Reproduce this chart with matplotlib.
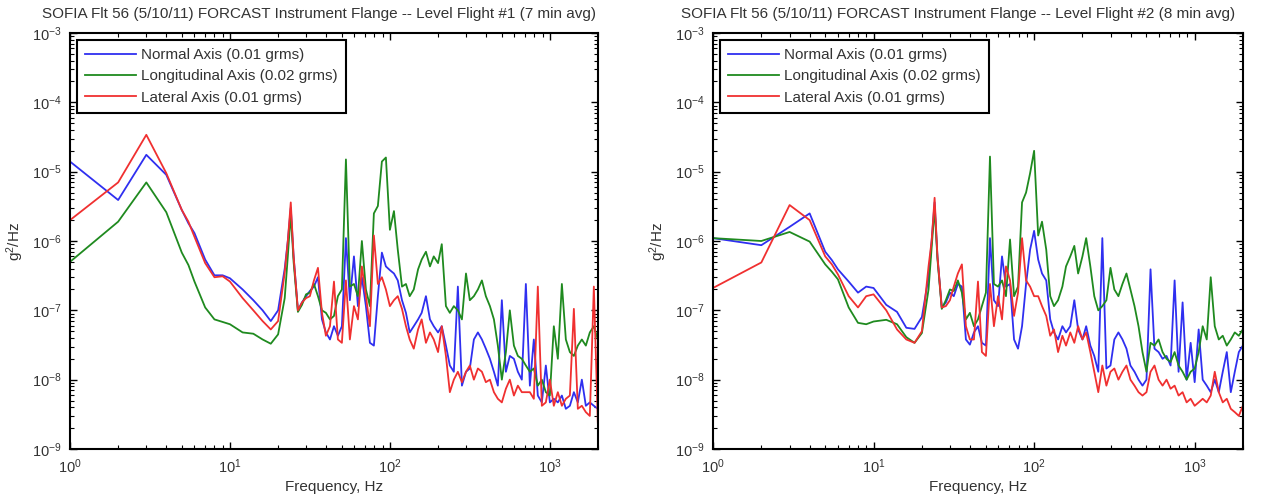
import matplotlib
matplotlib.use("Agg")
import matplotlib.pyplot as plt
from matplotlib.ticker import FixedLocator, LogFormatterSciNotation, NullFormatter

plt.rcParams["font.family"] = ["Liberation Sans", "DejaVu Sans"]
plt.rcParams["mathtext.fontset"] = "custom"
plt.rcParams["mathtext.rm"] = "Liberation Sans"
plt.rcParams["mathtext.it"] = "Liberation Sans:italic"
plt.rcParams["mathtext.bf"] = "Liberation Sans:bold"

# Frequency grid shared by every PSD series (Hz)
freq_hz = [
    1, 2, 3, 4, 5, 5.5, 6, 7, 8, 9, 10, 12, 14, 16, 18, 20, 22, 23, 24, 25,
    26.6, 28.2, 29.9, 31.6, 33.5, 35.5, 37.6, 39.8, 42.2, 44.7, 47.3, 50.1,
    53.1, 56.2, 59.6, 63.1, 66.8, 70.8, 75.0, 79.4, 84.1, 89.1, 94.4, 100,
    106, 112, 119, 126, 133, 141, 150, 158, 168, 178, 188, 200, 211, 224,
    237, 251, 266, 282, 299, 316, 335, 355, 376, 398, 422, 447, 473, 501,
    531, 562, 596, 631, 668, 708, 750, 794, 841, 891, 944, 1000, 1059, 1122,
    1189, 1259, 1334, 1413, 1496, 1585, 1679, 1778, 1884, 1995,
]

# Level Flight #1 PSD, g^2/Hz
flight1_normal = [
    1.4e-5, 3.9e-6, 1.75e-5, 9e-6, 2.8e-6, 1.8e-6, 1.3e-6, 5.4e-7, 3.2e-7, 3.2e-7,
    2.9e-7, 2e-7, 1.4e-7, 1e-7, 7e-8, 1e-7, 4e-7, 1e-6, 3e-6, 6e-7,
    1.0e-7, 1.3e-7, 1.6e-7, 1.9e-7, 2.2e-7, 3e-7, 7.4e-8, 4.8e-8, 3.8e-8, 5.9e-8,
    4.3e-8, 5.9e-8, 1.1e-6, 1.4e-7, 6e-7, 1.15e-7, 3e-7, 1.15e-7, 3.4e-8, 3.1e-8,
    1.6e-7, 6.8e-7, 4.3e-7, 3.8e-7, 3.4e-7, 2.7e-7, 1.4e-7, 9.2e-8, 4.8e-8, 5.9e-8,
    7.4e-8, 9.2e-8, 1.6e-7, 7.4e-8, 5.9e-8, 4.8e-8, 5.9e-8, 3.1e-8, 1.6e-8, 1.3e-8,
    2.2e-7, 8.2e-9, 1.3e-8, 1.45e-8, 3.8e-8, 4.8e-8, 3.8e-8, 2.8e-8, 2e-8, 1.3e-8,
    8.2e-9, 1.4e-7, 1.3e-8, 2.2e-8, 2e-8, 1.3e-8, 1e-8, 2.4e-7, 8.2e-9, 3.8e-8,
    5.9e-9, 4.7e-9, 1.6e-8, 4.7e-9, 5.3e-9, 4.7e-9, 5.9e-9, 3.8e-9, 4.2e-9, 6.6e-9,
    4.7e-9, 1e-8, 4.2e-9, 4.7e-9, 4.2e-9, 3.8e-9,
]
flight1_longitudinal = [
    5e-7, 1.9e-6, 7e-6, 2.6e-6, 6.8e-7, 4.5e-7, 2.6e-7, 1.1e-7, 7.4e-8, 6.8e-8,
    6.3e-8, 4.8e-8, 4.6e-8, 3.8e-8, 3.3e-8, 4.5e-8, 1.5e-7, 6e-7, 2.5e-6, 5e-7,
    9.5e-8, 1.2e-7, 1.7e-7, 1.8e-7, 2.4e-7, 1.6e-7, 1e-7, 9.2e-8, 7.4e-8, 8.3e-8,
    1.6e-7, 2e-7, 1.5e-5, 2.2e-7, 2.4e-7, 1.6e-7, 1e-6, 2e-7, 1.15e-7, 2.5e-6,
    3.2e-6, 1.4e-5, 1.6e-5, 1.45e-6, 2.7e-6, 7.5e-7, 2.2e-7, 2.4e-7, 1.6e-7, 2e-7,
    3.9e-7, 5.4e-7, 7e-7, 4.3e-7, 6e-7, 4.8e-7, 9e-7, 1.15e-7, 9.2e-8, 1.15e-7,
    1e-7, 7.4e-8, 3.4e-7, 1.4e-7, 1.6e-7, 2e-7, 2.7e-7, 1.6e-7, 1.15e-7, 7.4e-8,
    3.1e-8, 1e-8, 2.5e-8, 1e-7, 3.1e-8, 2.2e-8, 2e-8, 1.6e-8, 1.3e-8, 1.45e-8,
    8.2e-9, 1e-8, 6.6e-9, 5.9e-9, 5.9e-8, 2e-8, 2.4e-7, 3.8e-8, 2.5e-8, 2.2e-8,
    3.1e-8, 3.8e-8, 3.1e-8, 4.8e-8, 5.9e-8, 3.8e-8,
]
flight1_lateral = [
    2e-6, 7e-6, 3.4e-5, 9.5e-6, 2.8e-6, 1.9e-6, 1.15e-6, 4.8e-7, 3e-7, 3.1e-7,
    2.6e-7, 1.5e-7, 1e-7, 7e-8, 5.3e-8, 7e-8, 3.5e-7, 1e-6, 3.6e-6, 6e-7,
    1.0e-7, 1.3e-7, 1.5e-7, 1.6e-7, 2.7e-7, 4.1e-7, 9.2e-8, 4.3e-8, 5.9e-8, 2.6e-7,
    3.8e-8, 3.4e-8, 2.7e-7, 3.8e-8, 1.15e-7, 7.4e-8, 4.3e-7, 1.6e-7, 5.9e-8, 1.2e-6,
    2.4e-7, 3e-7, 2e-7, 1.15e-7, 1.4e-7, 1.6e-7, 1.05e-7, 5.9e-8, 3.8e-8, 2.8e-8,
    5.3e-8, 7.4e-8, 3.4e-8, 4.8e-8, 3.8e-8, 2.5e-8, 5.9e-8, 2.2e-8, 6.6e-9, 1e-8,
    1.3e-8, 9.2e-9, 1.3e-8, 1.6e-8, 1e-8, 1.45e-8, 1.3e-8, 9.2e-9, 1e-8, 6.6e-9,
    5.3e-9, 4.7e-9, 7.4e-9, 1e-8, 5.9e-9, 8.2e-9, 6.6e-9, 6.6e-9, 6.6e-9, 5.3e-9,
    2.2e-7, 4.2e-9, 4.7e-9, 1e-8, 4.2e-9, 6.6e-9, 4.2e-9, 5.3e-9, 5.9e-9, 1.05e-7,
    3.8e-9, 4.2e-9, 3.4e-9, 3e-9, 2.2e-7, 2.4e-9,
]

# Level Flight #2 PSD, g^2/Hz
flight2_normal = [
    1.1e-6, 8.7e-7, 1.6e-6, 2.5e-6, 7e-7, 5.3e-7, 3.9e-7, 2.6e-7, 1.8e-7, 2.2e-7,
    2.1e-7, 1.2e-7, 9.5e-8, 5.6e-8, 5.4e-8, 8e-8, 3e-7, 1e-6, 3.6e-6, 6e-7,
    1.1e-7, 1.3e-7, 1.8e-7, 1.6e-7, 2.4e-7, 2.2e-7, 3.8e-8, 3.2e-8, 4.8e-8, 5.9e-8,
    3.4e-8, 3.1e-8, 1.1e-6, 1.4e-7, 1.15e-7, 6e-7, 2.2e-7, 2.4e-7, 3.8e-8, 2.8e-8,
    5.9e-8, 2.4e-7, 7.5e-7, 1.4e-6, 5.4e-7, 3.4e-7, 2.7e-7, 7.4e-8, 4.8e-8, 3.8e-8,
    5.9e-8, 4.8e-8, 5.9e-8, 1.4e-7, 5.3e-8, 3.8e-8, 5.9e-8, 3.1e-8, 2.2e-8, 1.3e-8,
    1.1e-6, 1.45e-8, 1.6e-8, 3.8e-8, 4.8e-8, 3.8e-8, 2.8e-8, 1.6e-8, 1.3e-8, 1e-8,
    8.2e-9, 1e-8, 3.9e-7, 2.8e-8, 2.5e-8, 2e-8, 2.2e-8, 1.6e-8, 2.7e-7, 1.3e-8,
    1.3e-7, 1e-8, 3.4e-8, 9.2e-9, 5.3e-8, 1e-8, 8.2e-9, 6.6e-9, 1e-8, 6.6e-9,
    1.3e-8, 2.5e-8, 6.6e-9, 1.3e-8, 2.5e-8, 3.1e-8,
]
flight2_longitudinal = [
    1.1e-6, 1e-6, 1.35e-6, 9.8e-7, 4.6e-7, 3.6e-7, 2.8e-7, 1.1e-7, 6.6e-8, 6.3e-8,
    6.9e-8, 7.3e-8, 6.3e-8, 4.1e-8, 3.4e-8, 4.7e-8, 2e-7, 8e-7, 3e-6, 5.5e-7,
    1.05e-7, 1.4e-7, 2e-7, 1.9e-7, 2.7e-7, 1.8e-7, 7.4e-8, 9.2e-8, 5.9e-8, 7.4e-8,
    1.15e-7, 1.8e-7, 1.65e-5, 2.4e-7, 2.2e-7, 2.7e-7, 1.6e-7, 1.05e-6, 1.6e-7, 2.2e-7,
    3.6e-6, 5e-6, 9.5e-6, 2e-5, 1.2e-6, 1.9e-6, 7.5e-7, 1.6e-7, 1.15e-7, 1.4e-7,
    2.2e-7, 4.3e-7, 6e-7, 8.5e-7, 3.4e-7, 6e-7, 1.1e-6, 4.3e-7, 1.6e-7, 1e-7,
    1.15e-7, 1.4e-7, 4.1e-7, 2e-7, 1.6e-7, 2.4e-7, 3.4e-7, 2e-7, 1.15e-7, 5.9e-8,
    2.5e-8, 1.3e-8, 3.4e-8, 3.1e-8, 3.8e-8, 2.5e-8, 2e-8, 1.8e-8, 2.5e-8, 1.6e-8,
    1.3e-8, 1e-8, 1.3e-8, 1.45e-8, 2.5e-8, 5.9e-8, 3.8e-8, 3e-7, 5.9e-8, 3.8e-8,
    4.3e-8, 3.1e-8, 3.8e-8, 4.8e-8, 4.3e-8, 5.3e-8,
]
flight2_lateral = [
    2.1e-7, 4.9e-7, 3.3e-6, 2e-6, 6e-7, 4.6e-7, 3.3e-7, 1.6e-7, 1.1e-7, 1.6e-7,
    1.7e-7, 1e-7, 5.3e-8, 3.8e-8, 3.4e-8, 5e-8, 4.3e-7, 1e-6, 4.2e-6, 6e-7,
    1.1e-7, 1.15e-7, 1.4e-7, 2.2e-7, 3.4e-7, 4.6e-7, 5.9e-8, 3.8e-8, 3.8e-8, 2.6e-7,
    2.5e-8, 2.2e-8, 2.4e-7, 5.9e-8, 1.6e-7, 7.4e-8, 4.3e-7, 2.7e-7, 8.3e-8, 1.8e-7,
    1.1e-6, 2.7e-7, 2.2e-7, 1.6e-7, 1.6e-7, 1.15e-7, 8.3e-8, 4.3e-8, 5.3e-8, 2.5e-8,
    4.3e-8, 3.1e-8, 4.8e-8, 3.4e-8, 5.9e-8, 3.8e-8, 4.8e-8, 2.5e-8, 1.3e-8, 6.6e-9,
    1.6e-8, 8.2e-9, 1.3e-8, 1.45e-8, 1e-8, 1.3e-8, 1.6e-8, 1e-8, 8.2e-9, 6.6e-9,
    5.9e-9, 6.6e-9, 1.3e-8, 1.6e-8, 1e-8, 8.2e-9, 1e-8, 7.4e-9, 8.2e-9, 5.9e-9,
    6.6e-9, 4.7e-9, 5.3e-9, 4.2e-9, 4.7e-9, 5.3e-9, 4.7e-9, 5.9e-9, 1.3e-8, 6.6e-9,
    4.7e-9, 5.3e-9, 3.8e-9, 3.4e-9, 3e-9, 4.2e-9,
]

series_labels = [
    "Normal Axis (0.01 grms)",
    "Longitudinal Axis (0.02 grms)",
    "Lateral Axis (0.01 grms)",
]
series_colors = ["#2f2ff0", "#1f8a1f", "#f03030"]
panel_titles = [
    "SOFIA Flt 56 (5/10/11) FORCAST Instrument Flange -- Level Flight #1 (7 min avg)",
    "SOFIA Flt 56 (5/10/11) FORCAST Instrument Flange -- Level Flight #2 (8 min avg)",
]
x_decades = [1, 10, 100, 1000]
y_decades = [1e-9, 1e-8, 1e-7, 1e-6, 1e-5, 1e-4, 1e-3]
x_minor = [m * d for d in [1, 10, 100] for m in range(2, 10)] + [2000]
y_minor = [m * d for d in y_decades[:-1] for m in range(2, 10)]

TEXT = "#333333"
W, H = 1276, 501
fig = plt.figure(figsize=(W / 100, H / 100), dpi=100)


def panel(left_px, right_px, series, title, title_cx):
    top_px, bottom_px = 33, 449
    ax = fig.add_axes([left_px / W, 1 - bottom_px / H,
                       (right_px - left_px) / W, (bottom_px - top_px) / H])
    for vals, lab, col in zip(series, series_labels, series_colors):
        ax.plot(freq_hz, vals, color=col, lw=1.3, label=lab)
    ax.set_xscale("log")
    ax.set_yscale("log")
    ax.set_xlim(1, 2000)
    ax.set_ylim(1e-9, 1e-3)
    ax.xaxis.set_major_locator(FixedLocator(x_decades))
    ax.yaxis.set_major_locator(FixedLocator(y_decades))
    ax.xaxis.set_major_formatter(LogFormatterSciNotation())
    ax.yaxis.set_major_formatter(LogFormatterSciNotation())
    ax.xaxis.set_minor_locator(FixedLocator(x_minor))
    ax.yaxis.set_minor_locator(FixedLocator(y_minor))
    ax.xaxis.set_minor_formatter(NullFormatter())
    ax.yaxis.set_minor_formatter(NullFormatter())
    ax.tick_params(which="both", direction="in", top=True, right=True,
                   colors="black", labelcolor=TEXT, labelsize=10.5)
    ax.tick_params(which="major", length=5, width=1.0, pad=6)
    ax.tick_params(which="minor", length=3, width=0.8)
    for sp in ax.spines.values():
        sp.set_linewidth(1.5)
    ax.set_xlabel("Frequency, Hz", fontsize=11, color=TEXT, labelpad=3)
    ax.set_ylabel(r"g$^2$/Hz", fontsize=11, color=TEXT, labelpad=4)
    leg = ax.legend(loc="upper left", bbox_to_anchor=(0.013, 0.984),
                    borderaxespad=0, fancybox=False, edgecolor="black",
                    fontsize=11, handlelength=3.3, handletextpad=0.35,
                    labelspacing=0.48, borderpad=0.55, framealpha=1)
    leg.get_frame().set_linewidth(1.5)
    for t in leg.get_texts():
        t.set_color(TEXT)
    fig.text(title_cx / W, 1 - 14 / H, title, ha="center", va="center",
             fontsize=11, color=TEXT)
    return ax


panel(70, 598, [flight1_normal, flight1_longitudinal, flight1_lateral],
      panel_titles[0], 319)
panel(713, 1243, [flight2_normal, flight2_longitudinal, flight2_lateral],
      panel_titles[1], 958)

fig.savefig("out.png", dpi=100, facecolor="white")
